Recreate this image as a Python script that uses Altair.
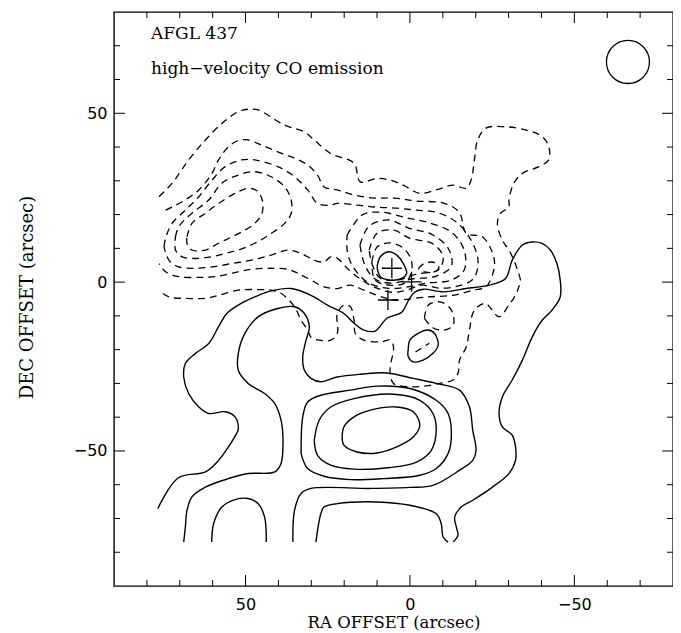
import altair as alt
import pandas as pd

# ---------------- data (arcsec offsets read from the map) ----------------
# solid contours
S1 = [(76.7,-67.1),(70.5,-58.0),(62.2,-56.2),(58.2,-52.8),(55.2,-48.8),(52.7,-44.8),(52.2,-43.4),(53.2,-39.9),
      (56.2,-38.4),(61.2,-38.9),(64.2,-37.0),(67.3,-33.0),(68.8,-28.1),(68.3,-24.1),(65.2,-21.1),(61.2,-18.2),
      (58.2,-13.2),(55.7,-9.3),(52.2,-6.8),(47.2,-4.4),(42.2,-2.6),(36.1,-1.9),(30.1,-3.9),(25.1,-6.8),
      (20.1,-9.3),(17.0,-12.2),(14.0,-14.2),(10.6,-14.5),(7.0,-10.7),(2.5,-8.9),(0.4,-5.3),(-1.4,-3.0),
      (-4.1,-2.1),(-10.2,-2.9),(-17.1,-1.9),(-24.1,-0.9),(-29.1,1.1),(-31.1,6.5),(-34.2,11.0),(-37.2,11.9),
      (-40.2,11.5),(-42.7,9.5),(-44.7,5.5),(-45.7,0.6),(-45.7,-4.4),(-43.2,-8.3),(-40.2,-11.3),(-37.2,-16.2),
      (-34.2,-23.1),(-31.1,-29.0),(-28.1,-34.0),(-27.1,-38.9),(-28.1,-42.9),(-31.1,-45.3),(-32.1,-48.8),
      (-32.1,-52.8),(-30.1,-56.7),(-25.1,-60.7),(-19.1,-64.6),(-15.6,-66.6),(-13.6,-69.6),(-14.1,-72.5),
      (-14.6,-75.0),(-13.1,-77.0)]
S2 = [(68.8,-77.0),(68.3,-72.5),(67.8,-67.6),(66.3,-63.6),(62.2,-60.7),(55.2,-58.2),(49.2,-56.7),(41.1,-56.2),
      (39.2,-53.7),(38.6,-46.8),(39.2,-40.9),(41.1,-36.0),(44.2,-33.0),(49.2,-30.0),(52.2,-26.1),(52.2,-21.1),
      (50.2,-15.2),(46.2,-10.3),(40.2,-7.8),(35.1,-7.3),(32.1,-9.3),(30.6,-13.2),(31.6,-17.2),(32.6,-22.1),
      (32.1,-26.1),(30.1,-28.5),(27.1,-29.5),(22.1,-28.1),(15.1,-27.3),(7.0,-26.9),(-1.0,-28.5),(-8.0,-30.0),
      (-15.1,-32.0),(-18.1,-37.0),(-19.1,-43.9),(-20.1,-49.8),(-19.1,-52.8),(-15.1,-55.7),(-7.0,-60.2),
      (0.0,-60.8),(12.0,-61.1),(30.1,-61.1),(33.1,-62.6),(35.1,-67.6),(35.6,-77.0)]
S3 = [(28.6,-77.0),(27.1,-68.6),(26.1,-66.6),(22.1,-65.6),(10.0,-65.1),(0.0,-66.1),(-8.0,-68.6),(-9.5,-71.5),
      (-10.1,-75.5),(-11.6,-77.0)]
S4 = [(60.3,-77.0),(59.7,-71.5),(57.2,-66.6),(53.2,-64.4),(49.2,-64.1),(46.2,-65.6),(44.2,-69.6),(43.7,-77.0)]
CA = [(20.6,-45.3),(20.1,-42.9),(17.0,-39.9),(12.0,-37.9),(4.0,-37.0),(-1.0,-38.4),(-3.0,-42.4),(-1.0,-45.9),
      (4.0,-48.8),(10.0,-50.6),(16.1,-50.3),(20.1,-48.3)]
CB = [(29.1,-46.8),(27.6,-40.9),(24.1,-37.0),(17.0,-34.5),(5.0,-33.2),(-3.0,-35.0),(-7.0,-38.9),(-8.0,-43.9),
      (-6.5,-49.8),(-2.0,-53.3),(6.0,-54.9),(17.0,-55.4),(24.1,-54.2),(28.1,-51.3)]
CC = [(33.1,-50.8),(32.6,-39.9),(31.1,-35.5),(27.1,-33.5),(18.1,-32.0),(10.0,-30.8),(0.0,-31.5),(-8.0,-35.0),
      (-11.6,-38.9),(-12.6,-44.8),(-11.6,-50.8),(-8.0,-55.2),(-3.0,-57.2),(8.0,-58.2),(18.1,-58.5),
      (26.1,-57.5),(31.1,-55.2)]
SN1 = [(10.0,4.5),(9.0,7.5),(6.5,9.0),(4.0,8.0),(2.0,5.5),(1.0,2.6),(2.5,1.1),(6.0,0.6),(9.0,1.6)]
SN2 = [(0.5,-19.7),(0.0,-17.2),(-2.5,-15.2),(-5.5,-14.2),(-7.5,-15.2),(-8.6,-18.7),(-7.0,-21.1),(-4.0,-23.1),
       (-1.0,-23.6),(0.5,-22.1)]

# dashed contours
D1 = [(76.3,25.3),(72.3,29.3),(67.3,36.2),(62.2,42.1),(57.2,47.0),(52.2,50.5),(49.2,51.2),(46.2,51.0),
      (38.1,46.5),(32.1,44.5),(29.1,42.1),(24.1,38.1),(17.0,35.2),(15.1,29.7),(10.0,30.7),(6.0,30.2),
      (2.0,28.7),(-3.0,26.3),(-8.0,27.3),(-13.1,28.7),(-17.1,27.8),(-18.6,30.2),(-19.6,36.2),(-20.6,42.1),
      (-23.1,45.6),(-29.1,46.0),(-35.1,45.1),(-40.2,43.1),(-42.2,40.1),(-42.2,36.2),(-39.2,34.2),(-34.2,32.2),
      (-31.6,29.3),(-30.1,24.3),(-30.1,22.3),(-27.6,20.4),(-26.6,17.4),(-28.1,12.4),(-30.1,9.5),(-31.6,6.5),
      (-32.7,3.6),(-33.6,0.6),(-33.1,-1.4),(-32.1,-3.9),(-30.1,-6.8),(-27.1,-10.3),(-24.6,-7.8),(-23.1,-6.3),
      (-20.6,-7.3),(-19.1,-9.3),(-18.1,-14.2),(-17.1,-19.2),(-15.1,-23.1),(-14.6,-27.1),(-13.1,-29.0),
      (-9.0,-30.0),(-5.0,-30.7),(0.0,-31.0),(5.0,-30.0),(6.0,-27.1),(6.0,-25.1),(5.0,-19.2),(6.0,-17.2),
      (9.0,-17.7),(14.0,-17.2),(16.6,-15.2),(17.0,-11.3),(18.1,-7.3),(20.1,-6.8),(22.1,-9.3),(22.1,-15.2),
      (24.1,-17.2),(27.6,-17.2),(30.1,-16.3),(31.1,-14.2),(33.1,-11.3),(35.1,-7.3),(39.2,-3.3),(42.2,-2.4),
      (46.2,-2.2),(52.2,-2.4),(58.2,-3.9),(62.2,-4.8),(68.3,-4.8),(73.3,-4.4),(76.3,-2.4)]
D2 = [(74.3,21.3),(69.3,23.8),(64.2,27.3),(60.2,32.2),(58.2,36.2),(55.2,40.1),(52.2,41.9),(49.2,42.1),
      (45.2,40.6),(40.2,38.6),(35.1,36.7),(31.1,34.7),(28.1,31.7),(26.1,28.2),(22.1,27.3),(17.0,25.8),
      (10.9,24.9),(4.9,24.9),(-2.0,24.0),(-10.2,23.4),(-15.0,20.7),(-17.1,14.5),(-22.2,13.3),(-25.5,7.4),
      (-25.5,3.6),(-23.1,-1.4),(-19.1,-2.4),(-13.1,-3.9),(-5.0,-4.4),(4.0,-5.3),(7.0,-4.8),(10.0,-3.9),
      (14.0,-2.4),(18.1,-0.9),(22.1,-1.9),(26.1,-1.4),(30.1,0.6),(34.1,2.6),(37.1,3.8),(42.2,4.1),(48.2,3.8),
      (54.2,2.6),(59.2,1.6),(64.2,1.4),(70.3,1.6),(74.3,3.1),(76.3,5.5)]
D3 = [(74.8,10.5),(74.2,13.4),(72.3,17.4),(68.3,21.3),(64.2,25.3),(60.2,30.2),(56.2,34.2),(51.2,36.2),
      (47.2,36.2),(40.2,34.2),(35.1,31.2),(31.1,27.3),(28.1,23.3),(24.1,22.8),(22.1,23.3),(16.0,22.8),
      (10.0,22.2),(4.0,21.9),(-2.0,21.3),(-8.0,20.7),(-14.1,17.8),(-18.6,12.4),(-20.7,6.5),(-19.5,1.2),
      (-15.6,-0.9),(-9.5,-1.8),(-3.5,-0.9),(1.0,-2.4),(5.5,-3.0),(10.0,-1.8),(14.6,0.6),(19.1,4.1),(22.1,7.1),
      (24.1,7.5),(26.1,6.0),(29.1,6.5),(33.1,8.5),(37.1,9.5),(42.2,8.0),(48.2,6.5),(54.2,5.5),(60.2,4.5),
      (65.2,4.1),(70.3,4.5),(73.3,6.5)]
W2 = [(71.3,13.4),(70.3,16.4),(66.3,20.4),(61.2,24.3),(57.2,29.3),(52.2,31.7),(47.2,32.7),(42.2,31.2),
      (38.1,28.2),(36.1,24.3),(36.1,20.4),(38.1,17.4),(42.2,14.4),(47.2,11.5),(52.2,9.5),(56.2,8.5),(60.2,7.5),
      (65.2,7.0),(69.3,7.5),(71.3,9.5)]
W1 = [(67.8,13.4),(66.3,17.4),(62.2,20.4),(58.2,23.3),(53.2,26.3),(49.2,27.8),(46.2,26.8),(44.7,23.3),
      (45.2,19.9),(47.2,17.4),(50.2,15.4),(54.2,13.4),(58.2,11.5),(62.2,9.5),(66.3,9.5),(67.8,11.5)]
D4 = [(19.1,13.9),(14.5,19.9),(8.5,20.7),(1.0,19.0),(-5.0,17.8),(-12.6,14.8),(-16.5,9.5),(-16.5,3.6),
      (-12.6,0.6),(-5.0,-0.3),(1.0,-1.5),(7.0,-1.8),(13.0,0.0),(17.6,5.0),(19.1,9.5)]
D5 = [(15.2,11.0),(12.4,16.6),(6.4,18.4),(0.4,16.0),(-6.5,14.2),(-11.6,10.1),(-12.6,4.7),(-8.0,1.8),
      (-0.5,0.9),(5.5,-0.3),(10.6,0.9),(13.7,5.0)]
D6 = [(12.4,9.5),(10.0,14.5),(4.9,15.4),(0.1,13.0),(-7.1,11.3),(-10.1,7.4),(-8.6,3.6),(-2.0,2.4),(4.0,0.6),
      (9.1,1.2),(11.5,5.3)]
D7 = [(11.6,5.9),(10.0,10.4),(6.4,11.6),(2.5,10.4),(-0.2,7.1),(-0.5,3.0),(1.6,-0.3),(6.1,-0.9),(10.6,0.6)]
D8 = [(-2.5,4.0),(-4.5,5.6),(-7.5,5.8),(-8.8,4.4),(-7.5,3.0),(-4.5,3.0)]
L1 = [(-4.4,-10.7),(-5.6,-6.8),(-9.5,-5.9),(-12.6,-8.3),(-13.2,-12.7),(-10.5,-14.2),(-7.1,-13.6)]
L2 = [(-1.7,-20.7),(-5.9,-18.1)]

SOLID = {"S1": S1, "S2": S2, "S3": S3, "S4": S4, "CA": CA, "CB": CB, "CC": CC, "SN1": SN1, "SN2": SN2}
DASHED = {"D1": D1, "D2": D2, "D3": D3, "W2": W2, "W1": W1, "D4": D4, "D5": D5, "D6": D6, "D7": D7,
          "D8": D8, "L1": L1, "L2": L2}
CLOSED = {"CA", "CB", "CC", "SN1", "SN2", "D3", "W2", "W1", "D4", "D5", "D6", "D7", "D8", "L1"}

STAR_RA = [5.5, -0.5, 6.7]
STAR_DEC = [4.1, 0.1, -5.3]
BEAM_RA = [-66.3]
BEAM_DEC = [65.2]

X_MAJOR = [50, 0, -50]
X_MINOR = [80, 70, 60, 40, 30, 20, 10, -10, -20, -30, -40, -60, -70]
Y_MAJOR = [50, 0, -50]
Y_MINOR = [70, 60, 40, 30, 20, 10, -10, -20, -30, -40, -60, -70, -80]

TEXT_LINES = ["AFGL 437", "high\u2212velocity CO emission"]

# ---------------- build tables ----------------
rows = []
for kind, group in (("solid", SOLID), ("dashed", DASHED)):
    for name, pts in group.items():
        seq = list(pts) + ([pts[0]] if name in CLOSED else [])
        for i, (ra, dec) in enumerate(seq):
            rows.append({"cid": name, "kind": kind, "i": i, "ra": ra, "dec": dec})
df = pd.DataFrame(rows)

W, H = 559, 574
xs = alt.Scale(domain=[90, -80], nice=False, zero=False)
ys = alt.Scale(domain=[-90, 80], nice=False, zero=False)

x_axis = alt.Axis(values=X_MAJOR, ticks=False, domain=False, grid=False, orient="bottom",
                  labelFont="DejaVu Sans", labelFontSize=16, labelColor="black", labelPadding=10,
                  title="RA OFFSET (arcsec)", titleFont="DejaVu Serif", titleFontSize=16.5,
                  titleFontWeight="normal", titleColor="black", titlePadding=2)
y_axis = alt.Axis(values=Y_MAJOR, ticks=False, domain=False, grid=False, orient="left",
                  labelFont="DejaVu Sans", labelFontSize=16, labelColor="black", labelPadding=7,
                  title="DEC OFFSET (arcsec)", titleFont="DejaVu Serif", titleFontSize=18,
                  titleFontWeight="normal", titleColor="black", titleX=-87, titleY=285,
                  titleBaseline="middle")

X_ENC = alt.X("ra:Q", scale=xs, axis=x_axis)
Y_ENC = alt.Y("dec:Q", scale=ys, axis=y_axis)

solid_layer = alt.Chart(df).transform_filter(alt.datum.kind == "solid").mark_line(
    interpolate="catmull-rom", color="black", strokeWidth=1.4
).encode(x=X_ENC, y=Y_ENC, detail="cid:N", order="i:Q")

dashed_layer = alt.Chart(df).transform_filter(alt.datum.kind == "dashed").mark_line(
    interpolate="catmull-rom", color="black", strokeWidth=1.3, strokeDash=[7, 5]
).encode(x=X_ENC, y=Y_ENC, detail="cid:N", order="i:Q")

stars = alt.Chart(pd.DataFrame({"ra": STAR_RA, "dec": STAR_DEC})).mark_point(
    shape="M-1,0L1,0M0,-1L0,1", size=400, filled=False, color="black", strokeWidth=1.3, opacity=1
).encode(x=X_ENC, y=Y_ENC)

beam = alt.Chart(pd.DataFrame({"ra": BEAM_RA, "dec": BEAM_DEC})).mark_point(
    shape="circle", size=1850, filled=False, color="black", strokeWidth=1.3, opacity=1
).encode(x=X_ENC, y=Y_ENC)


def xticks(vals, length):
    d = pd.DataFrame({"ra": vals})
    bot = alt.Chart(d).mark_rule(color="black", strokeWidth=1).encode(
        x=X_ENC, y=alt.value(H), y2=alt.value(H - length))
    top = alt.Chart(d).mark_rule(color="black", strokeWidth=1).encode(
        x=X_ENC, y=alt.value(0), y2=alt.value(length))
    return [bot, top]


def yticks(vals, length):
    d = pd.DataFrame({"dec": vals})
    left = alt.Chart(d).mark_rule(color="black", strokeWidth=1).encode(
        y=Y_ENC, x=alt.value(0), x2=alt.value(length))
    right = alt.Chart(d).mark_rule(color="black", strokeWidth=1).encode(
        y=Y_ENC, x=alt.value(W), x2=alt.value(W - length))
    return [left, right]


tick_layers = xticks(X_MINOR, 6) + xticks(X_MAJOR, 11) + yticks(Y_MINOR, 6) + yticks(Y_MAJOR, 11)

text_layers = []
for k, line in enumerate(TEXT_LINES):
    text_layers.append(
        alt.Chart(pd.DataFrame({"t": [line]})).mark_text(
            align="left", baseline="middle", font="DejaVu Serif", fontSize=17, color="black"
        ).encode(x=alt.value(37), y=alt.value([22, 57][k]), text="t:N")
    )

chart = alt.layer(solid_layer, dashed_layer, stars, beam, *text_layers, *tick_layers).properties(
    width=W, height=H,
    autosize=alt.AutoSizeParams(type="none"),
    padding={"left": 106, "top": 4, "right": 0, "bottom": 47},
).configure(background="white").configure_view(stroke="black", strokeWidth=1.4)

chart.save("out.html", embed_options={"renderer": "svg", "actions": False})
